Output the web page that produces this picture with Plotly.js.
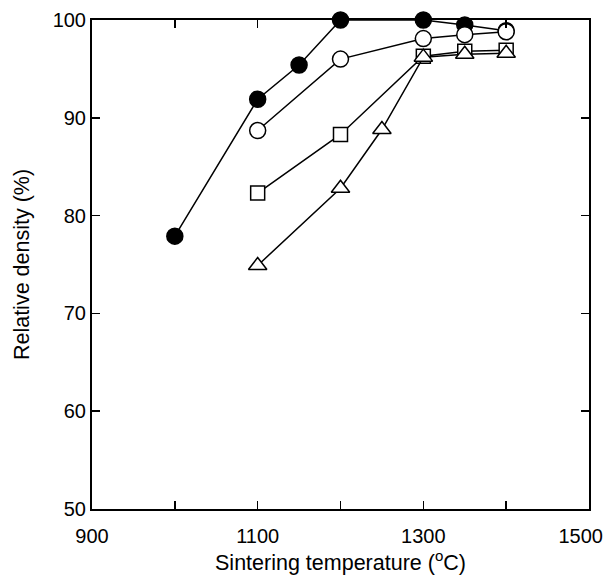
<!DOCTYPE html>
<html><head><meta charset="utf-8">
<script src="https://cdn.plot.ly/plotly-3.0.1.min.js"></script>
<style>body{margin:0;background:#fff}#plot{width:608px;height:575px}</style>
</head><body><div id="plot"></div>
<script>
const xFilledCircle = [1000, 1100, 1150, 1200, 1300, 1350, 1400];
const yFilledCircle = [77.9, 91.9, 95.4, 100, 100, 99.5, 98.9];
const xOpenCircle = [1100, 1200, 1300, 1350, 1400];
const yOpenCircle = [88.7, 96.0, 98.1, 98.5, 98.8];
const xSquare = [1100, 1200, 1300, 1350, 1400];
const ySquare = [82.3, 88.3, 96.3, 96.8, 96.9];
const xTriangle = [1100, 1200, 1250, 1300, 1350, 1400];
const yTriangle = [74.9, 82.8, 88.8, 96.2, 96.5, 96.6];
const xTickVals = [900, 1000, 1100, 1200, 1300, 1400, 1500];
const xTickText = ['900', '', '1100', '', '1300', '', '1500\u00a0\u00a0\u00a0'];
const yTickVals = [50, 60, 70, 80, 90, 100];

function tr(x, y, symbol, fill, size) {
  return {x: x, y: y, mode: 'lines+markers', type: 'scatter', cliponaxis: false,
    line: {color: '#000', width: 1.5},
    marker: {symbol: symbol, size: size, color: fill, line: {color: '#000', width: 1.5}}};
}
const data = [
  tr(xFilledCircle, yFilledCircle, 'circle', '#000', 16),
  tr(xSquare, ySquare, 'square', '#fff', 14),
  tr(xTriangle, yTriangle, 'triangle-up', '#fff', 16),
  tr(xOpenCircle, yOpenCircle, 'circle', '#fff', 16)
];
const tickFont = {family: 'Liberation Sans, Arial, sans-serif', size: 20, color: '#000'};
const titleFont = {family: 'Liberation Sans, Arial, sans-serif', size: 21.5, color: '#000'};
const layout = {
  width: 608, height: 575, showlegend: false,
  margin: {l: 92, r: 19, t: 20, b: 66},
  paper_bgcolor: '#fff', plot_bgcolor: '#fff', font: tickFont,
  xaxis: {range: [900, 1500], tickvals: xTickVals, ticktext: xTickText,
    ticks: 'inside', ticklen: 8, tickwidth: 1.5, tickcolor: '#000',
    showline: true, linecolor: '#000', linewidth: 2, mirror: 'ticks',
    showgrid: false, zeroline: false, tickfont: tickFont, automargin: false,
    ticklabeloverflow: 'allow', ticklabelstandoff: 8,
    title: {text: 'Sintering temperature (<sup>o</sup>C)', font: titleFont, standoff: 7}},
  yaxis: {range: [50, 100], tickvals: yTickVals,
    ticks: 'inside', ticklen: 8, tickwidth: 1.5, tickcolor: '#000',
    showline: true, linecolor: '#000', linewidth: 2, mirror: 'ticks',
    showgrid: false, zeroline: false, tickfont: tickFont, automargin: false,
    ticklabeloverflow: 'allow',
    title: {text: 'Relative density (%)', font: titleFont, standoff: 17}}
};
Plotly.newPlot('plot', data, layout, {displayModeBar: false, staticPlot: true});
</script></body></html>
